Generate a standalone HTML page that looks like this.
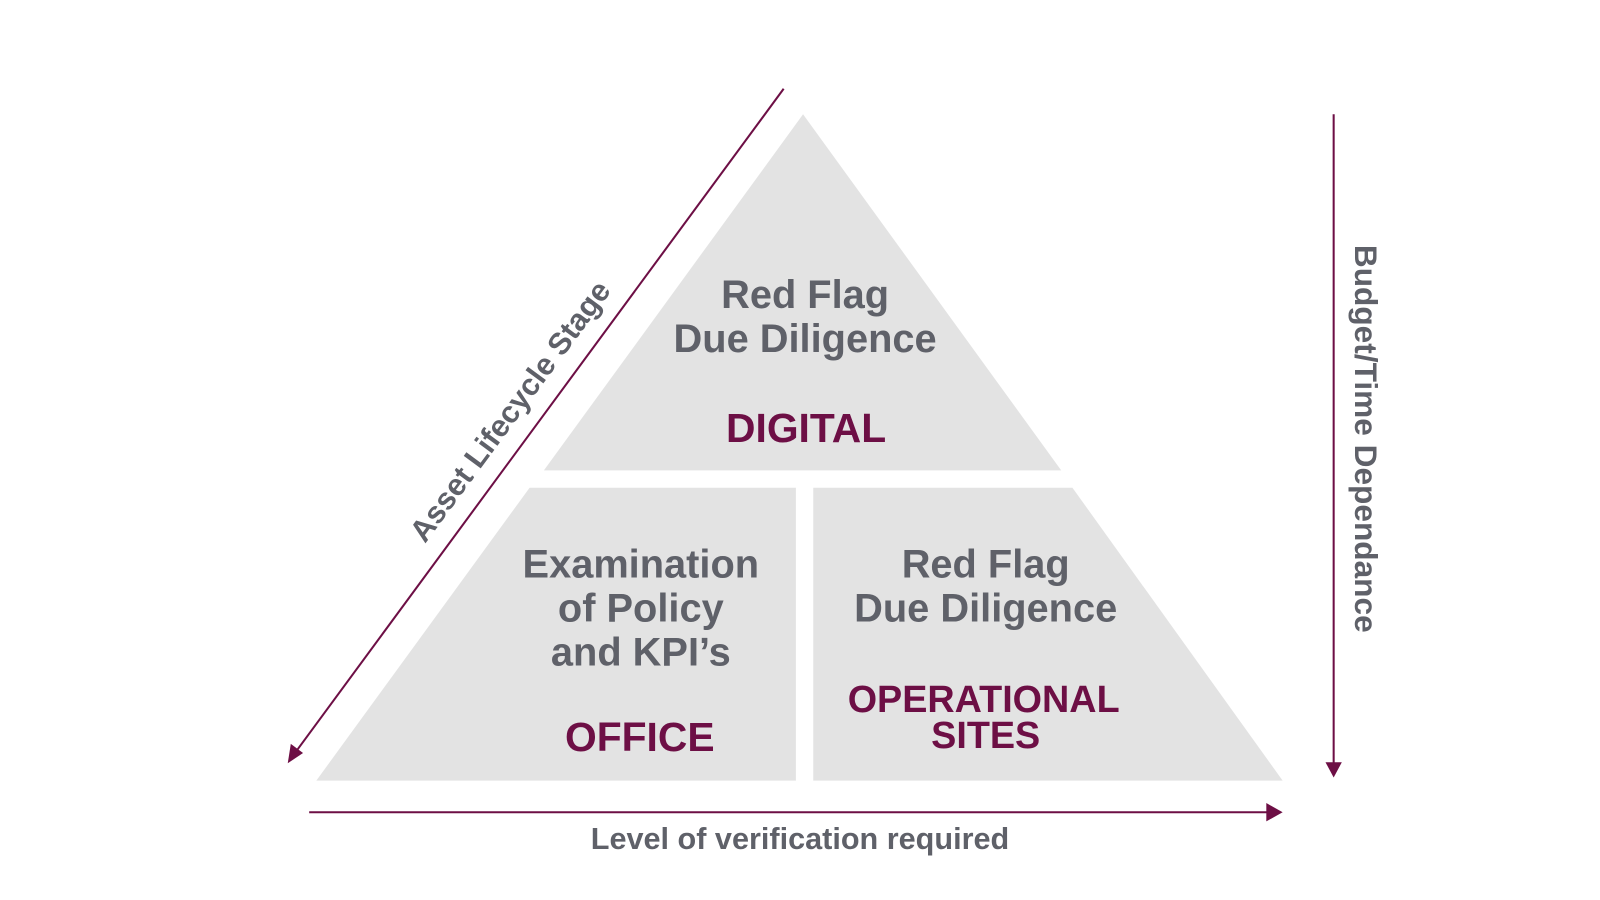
<!DOCTYPE html>
<html><head><meta charset="utf-8"><style>
html,body{margin:0;padding:0;background:#fff;}
svg{display:block;}
text{font-family:"Liberation Sans",sans-serif;}
.g{fill:#5f6169;font-weight:bold;}
.m{fill:#6d0f45;font-weight:900;}
</style></head><body>
<svg width="1600" height="900" viewBox="0 0 1600 900" xmlns="http://www.w3.org/2000/svg">
<g transform="scale(1.0204)">
<polygon points="787,112 1040,461 533,461" fill="#e3e3e3"/>
<polygon points="519,478 780,478 780,765 310,765" fill="#e3e3e3"/>
<polygon points="797,478 1051,478 1257,765 797,765" fill="#e3e3e3"/>

<line x1="768" y1="87" x2="289" y2="738" stroke="#6d0f45" stroke-width="2"/>
<polygon points="282,748 285,729 297,738" fill="#6d0f45"/>
<line x1="1307" y1="112" x2="1307" y2="750" stroke="#6d0f45" stroke-width="2"/>
<polygon points="1299,747 1315,747 1307,762" fill="#6d0f45"/>
<line x1="303" y1="796" x2="1244" y2="796" stroke="#6d0f45" stroke-width="2"/>
<polygon points="1241,787 1241,805 1257,796" fill="#6d0f45"/>

<g text-anchor="middle" font-size="39">
<text class="g" x="789" y="302">Red Flag</text>
<text class="g" x="789" y="345">Due Diligence</text>
<text class="m" x="790" y="433" font-size="40">DIGITAL</text>
<text class="g" x="628" y="566">Examination</text>
<text class="g" x="628" y="609">of Policy</text>
<text class="g" x="628" y="652">and KPI’s</text>
<text class="m" x="627" y="736" font-size="40">OFFICE</text>
<text class="g" x="966" y="566">Red Flag</text>
<text class="g" x="966" y="609">Due Diligence</text>
<text class="m" x="964" y="698" font-size="37">OPERATIONAL</text>
<text class="m" x="966" y="733" font-size="37">SITES</text>
</g>
<g text-anchor="middle" font-size="30">
<text class="g" x="784" y="832">Level of verification required</text>
<text class="g" transform="translate(500,403) rotate(-53.6)" y="10">Asset Lifecycle Stage</text>
<text class="g" transform="translate(1338,430) rotate(90)" y="10" font-size="31">Budget/Time Dependance</text>
</g>
</g>
</svg>
</body></html>
